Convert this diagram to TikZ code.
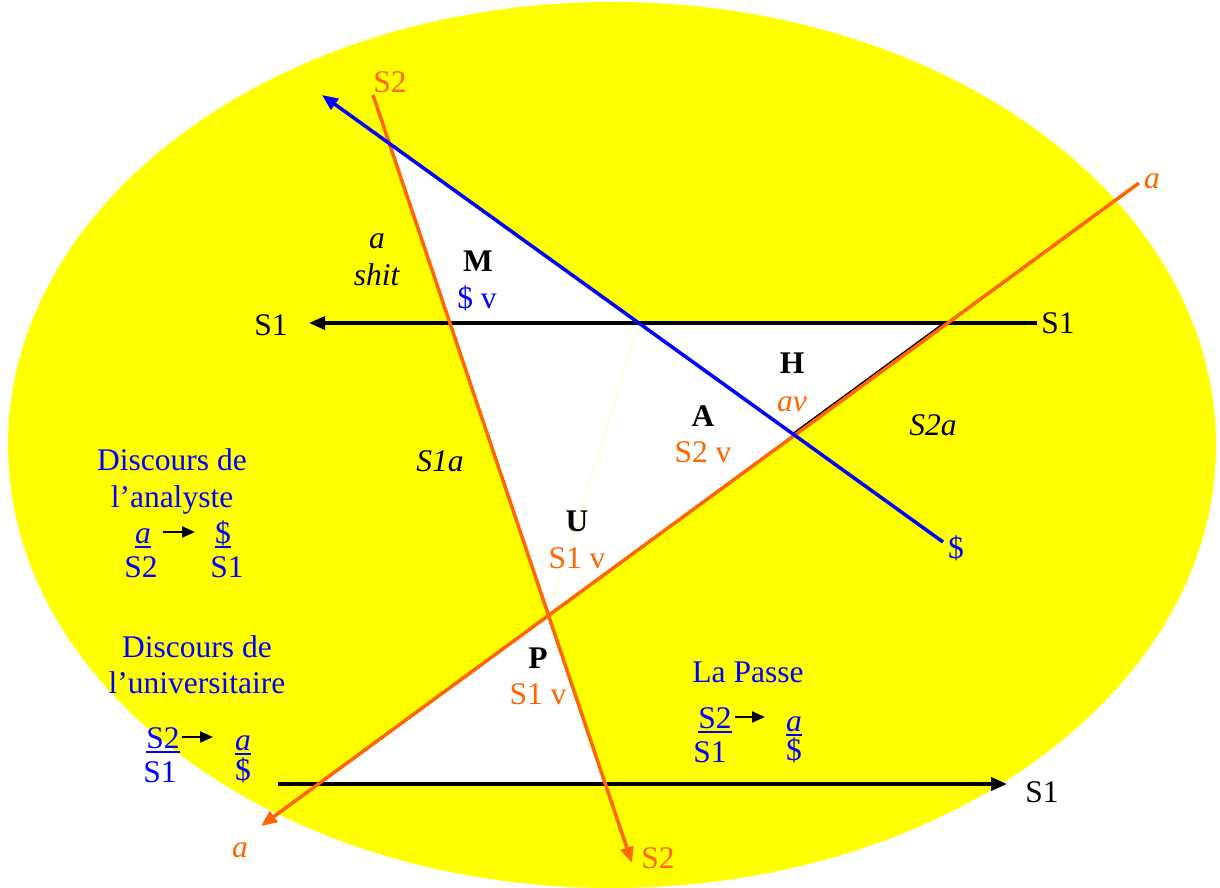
\documentclass[tikz,border=0pt]{standalone}
\usepackage{fontspec}
\setmainfont{Liberation Serif}
\usepackage{xcolor}
\definecolor{cYellow}{HTML}{FFFF00}
\definecolor{cOrange}{HTML}{FF6600}
\definecolor{cBlue}{HTML}{0000FF}
\usepackage{tikz}
\usetikzlibrary{arrows.meta}
\newcommand{\bigfont}{\fontsize{31.5}{36}\selectfont}
\newsavebox{\ulnbox}
\newcommand{\uln}[1]{\sbox\ulnbox{#1}\rlap{\usebox\ulnbox}\rule[-5pt]{\wd\ulnbox}{2pt}}
\tikzset{
  txt/.style={inner sep=0pt,anchor=base},
  txt-or/.style={txt,text=cOrange},
  txt-bl/.style={txt,text=cBlue},
  txt-bf/.style={txt,font=\bigfont\bfseries},
  line-or/.style={draw=cOrange,line width=3.5pt},
  line-bl/.style={draw=cBlue,line width=3.5pt},
  line-bk/.style={draw=black,line width=3.5pt},
  arrow-or/.style={line-or,-{Triangle[length=16pt,width=13pt]}},
  arrow-bl/.style={line-bl,-{Triangle[length=16pt,width=13pt]}},
  arrow-bk/.style={line-bk,-{Triangle[length=16pt,width=13pt]}},
  arrow-small/.style={-{Triangle[length=13pt,width=11pt]},line width=2.2pt,draw=black},
  white-area/.style={fill=white,draw=cYellow,line width=0.6pt},
}

\begin{document}
\begin{tikzpicture}[x=1pt,y=-1pt,font=\bigfont]
  \useasboundingbox (0,0) rectangle (1220,888);
  % fond jaune
  \fill[cYellow] (612,445) ellipse [x radius=604pt,y radius=443pt];
  % extremites des droites
  \coordinate (s2Top)    at (373,95);
  \coordinate (s2Bot)    at (632,863);
  \coordinate (aTop)     at (1139,183);
  \coordinate (aBot)     at (261,826);
  \coordinate (blTop)    at (322,95);
  \coordinate (blBot)    at (943,542);
  \coordinate (s1Right)  at (1037,323);
  \coordinate (s1Left)   at (309,323);
  \coordinate (lowLeft)  at (278,784);
  \coordinate (lowRight) at (1007,784);
  % intersections
  \coordinate (pM)    at (intersection of blTop--blBot and s2Top--s2Bot);
  \coordinate (pS1s2) at (intersection of s1Left--s1Right and s2Top--s2Bot);
  \coordinate (pS1bl) at (intersection of s1Left--s1Right and blTop--blBot);
  \coordinate (pS1a)  at (intersection of s1Left--s1Right and aTop--aBot);
  \coordinate (pBla)  at (intersection of blTop--blBot and aTop--aBot);
  \coordinate (pSa)   at (intersection of s2Top--s2Bot and aTop--aBot);
  \coordinate (pLowa) at (intersection of lowLeft--lowRight and aTop--aBot);
  \coordinate (pLows2) at (intersection of lowLeft--lowRight and s2Top--s2Bot);
  % triangles blancs
  \path[white-area] (pM) -- (pS1s2) -- (pS1bl) -- cycle;
  \path[white-area] (pS1s2) -- (pS1a) -- (pSa) -- cycle;
  \path[white-area] (pSa) -- (pLowa) -- (pLows2) -- cycle;
  \draw[cYellow!60,line width=0.3pt] (pS1bl) -- (pSa);
  \draw[black,line width=2pt] ([shift={(-1.5,-1.5)}]pS1a) -- ([shift={(-1.5,-1.5)}]pBla);
  % droites
  \draw[arrow-bk] (s1Right) -- (s1Left);
  \draw[arrow-bk] (lowLeft) -- (lowRight);
  \draw[arrow-or] (s2Top) -- (s2Bot);
  \draw[arrow-or] (aTop) -- (aBot);
  \draw[arrow-bl] (blBot) -- (blTop);
  % noms des droites
  \node[txt-or] (endS2top) at (390,93)  {S2};
  \node[txt-or] (endS2bot) at (658,868) {S2};
  \node[txt-or] (endAtop)  at (1152,188) {\textit{a}};
  \node[txt-or] (endAbot)  at (240,857) {\textit{a}};
  \node[txt]    (endS1l)   at (271,335) {S1};
  \node[txt]    (endS1r)   at (1058,333) {S1};
  \node[txt]    (endS1low) at (1042,802) {S1};
  \node[txt-bl] (endBl)    at (956,558) {\$};
  % zones
  \node[txt] (shitA) at (377,248) {\textit{a}};
  \node[txt] (shitB) at (377,285) {\textit{shit}};
  \node[txt] (zS2a)  at (933,435) {\textit{S2a}};
  \node[txt] (zS1a)  at (440,471) {\textit{S1a}};
  \node[txt-bf] (zM) at (478,271) {M};
  \node[txt-bl] (vM) at (477,308) {\$ v};
  \node[txt-bf] (zH) at (792,373) {H};
  \node[txt-or] (vH) at (792,411) {\textit{av}};
  \node[txt-bf] (zA) at (703,426) {A};
  \node[txt-or] (vA) at (703,462) {S2 v};
  \node[txt-bf] (zU) at (577,531) {U};
  \node[txt-or] (vU) at (577,568) {S1 v};
  \node[txt-bf] (zP) at (538,668) {P};
  \node[txt-or] (vP) at (538,704) {S1 v};
  % discours de l'analyste
  \node[txt-bl] (anaT1) at (172,470) {Discours de};
  \node[txt-bl] (anaT2) at (172,507) {l’analyste};
  \node[txt-bl] (anaN1) at (143,543) {\uln{\textit{a}}};
  \node[txt-bl] (anaD1) at (141,577) {S2};
  \node[txt-bl] (anaN2) at (223,543) {\uln{\$}};
  \node[txt-bl] (anaD2) at (227,577) {S1};
  \coordinate (anaArrS) at (163,532);
  \coordinate (anaArrE) at (195,532);
  \draw[arrow-small] (anaArrS) -- (anaArrE);
  % discours de l'universitaire
  \node[txt-bl] (uniT1) at (197,657) {Discours de};
  \node[txt-bl] (uniT2) at (197,693) {l’universitaire};
  \node[txt-bl] (uniN1) at (163,748) {\uln{S2}};
  \node[txt-bl] (uniD1) at (160,782) {S1};
  \node[txt-bl] (uniN2) at (243,750) {\uln{\textit{a}}};
  \node[txt-bl] (uniD2) at (243,780) {\$};
  \coordinate (uniArrS) at (182,737);
  \coordinate (uniArrE) at (213,737);
  \draw[arrow-small] (uniArrS) -- (uniArrE);
  % la passe
  \node[txt-bl] (pasT)  at (748,682) {La Passe};
  \node[txt-bl] (pasN1) at (715,728) {\uln{S2}};
  \node[txt-bl] (pasD1) at (710,762) {S1};
  \node[txt-bl] (pasN2) at (794,731) {\uln{\textit{a}}};
  \node[txt-bl] (pasD2) at (794,760) {\$};
  \coordinate (pasArrS) at (735,717);
  \coordinate (pasArrE) at (765,717);
  \draw[arrow-small] (pasArrS) -- (pasArrE);
\end{tikzpicture}
\end{document}
